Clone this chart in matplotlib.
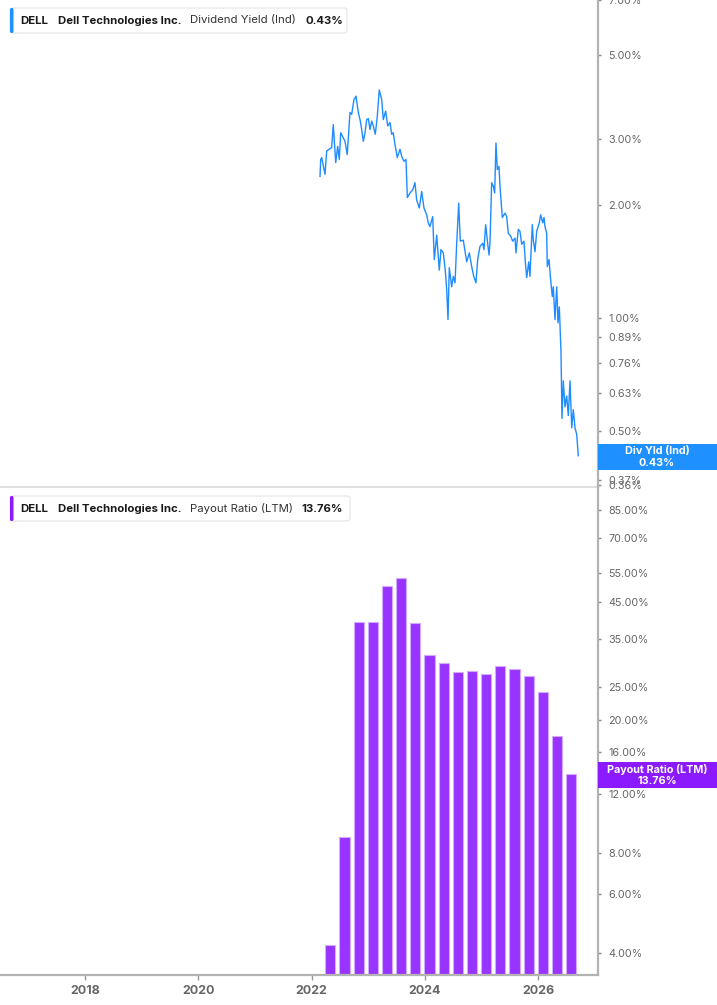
import matplotlib
matplotlib.use('Agg')
import matplotlib.pyplot as plt
from matplotlib.patches import Rectangle, FancyBboxPatch
from matplotlib.transforms import IdentityTransform
from matplotlib.ticker import FixedLocator, FixedFormatter, NullLocator

plt.rcParams['font.family'] = ['Inter', 'DejaVu Sans']

# ---------------- data ----------------
yield_dates = [
    2022.147, 2022.159, 2022.177, 2022.235, 2022.265, 2022.311, 2022.353, 2022.381, 2022.424, 2022.459,
    2022.487, 2022.512, 2022.588, 2022.628, 2022.676, 2022.706, 2022.747, 2022.782, 2022.823, 2022.853,
    2022.883, 2022.911, 2022.941, 2022.971, 2023.000, 2023.029, 2023.059, 2023.087, 2023.123, 2023.158,
    2023.193, 2023.236, 2023.264, 2023.306, 2023.342, 2023.382, 2023.412, 2023.440, 2023.470, 2023.511,
    2023.559, 2023.589, 2023.629, 2023.665, 2023.688, 2023.735, 2023.783, 2023.823, 2023.853, 2023.899,
    2023.942, 2023.982, 2024.030, 2024.058, 2024.088, 2024.136, 2024.164, 2024.207, 2024.252, 2024.282,
    2024.323, 2024.358, 2024.383, 2024.406, 2024.429, 2024.471, 2024.500, 2024.530, 2024.560, 2024.595,
    2024.623, 2024.676, 2024.736, 2024.782, 2024.824, 2024.860, 2024.900, 2024.930, 2024.971, 2025.018,
    2025.041, 2025.071, 2025.100, 2025.130, 2025.147, 2025.177, 2025.206, 2025.230, 2025.253, 2025.276,
    2025.306, 2025.324, 2025.365, 2025.412, 2025.442, 2025.470, 2025.513, 2025.548, 2025.589, 2025.606,
    2025.647, 2025.677, 2025.707, 2025.747, 2025.771, 2025.795, 2025.831, 2025.853, 2025.894, 2025.912,
    2025.942, 2025.972, 2026.018, 2026.042, 2026.078, 2026.101, 2026.118, 2026.148, 2026.159, 2026.189,
    2026.219, 2026.247, 2026.265, 2026.295, 2026.325, 2026.348, 2026.371, 2026.388, 2026.401, 2026.418,
    2026.441, 2026.471, 2026.501, 2026.530, 2026.560, 2026.590, 2026.618, 2026.648, 2026.678, 2026.706,
]
yield_values = [
    2.38, 2.64, 2.67, 2.41, 2.78, 2.81, 2.84, 3.27, 2.59, 2.86,
    2.64, 3.11, 2.95, 2.72, 3.52, 3.48, 3.81, 3.89, 3.52, 3.37,
    3.17, 2.95, 3.11, 3.37, 3.39, 3.17, 3.34, 3.24, 3.08, 3.44,
    4.04, 3.81, 3.37, 3.55, 3.24, 3.31, 3.08, 3.11, 2.89, 2.67,
    2.81, 2.69, 2.61, 2.64, 2.09, 2.15, 2.19, 2.29, 2.06, 1.96,
    2.17, 1.96, 1.88, 1.79, 1.75, 1.86, 1.43, 1.66, 1.34, 1.52,
    1.49, 1.34, 1.19, 0.99, 1.36, 1.21, 1.29, 1.24, 1.58, 2.02,
    1.60, 1.61, 1.41, 1.49, 1.37, 1.29, 1.24, 1.43, 1.55, 1.58,
    1.52, 1.77, 1.61, 1.47, 1.58, 2.29, 2.24, 2.15, 2.92, 2.48,
    2.53, 2.24, 1.85, 1.90, 1.86, 1.68, 1.65, 1.60, 1.63, 1.49,
    1.72, 1.70, 1.57, 1.60, 1.41, 1.28, 1.41, 1.29, 1.77, 1.61,
    1.50, 1.70, 1.79, 1.88, 1.79, 1.85, 1.75, 1.68, 1.37, 1.43,
    1.26, 1.14, 1.21, 0.99, 1.21, 0.97, 1.07, 0.91, 0.81, 0.54,
    0.68, 0.58, 0.62, 0.55, 0.68, 0.51, 0.57, 0.51, 0.49, 0.43,
]
payout_dates = [2022.33, 2022.58, 2022.83, 2023.08, 2023.33, 2023.58, 2023.83, 2024.08, 2024.33,
                2024.58, 2024.83, 2025.08, 2025.33, 2025.58, 2025.83, 2026.08, 2026.33, 2026.58]
payout_values = [4.23, 8.9, 39.4, 39.2, 50.5, 53.2, 38.9, 31.3, 29.5,
                 27.9, 28.1, 27.5, 29.0, 28.3, 27.1, 24.3, 17.9, 13.76]

yield_ticks = [7.0, 5.0, 3.0, 2.0, 1.0, 0.89, 0.76, 0.63, 0.50, 0.37, 0.36]
payout_ticks = [85, 70, 55, 45, 35, 25, 20, 16, 12, 8, 6, 4]
year_ticks = [2018, 2020, 2022, 2024, 2026]
year_labels = ['2018', '2020', '2022', '2024', '2026']

ticker_name = 'DELL'
company = 'Dell Technologies Inc.'
top_metric = 'Dividend Yield (Ind)'
bot_metric = 'Payout Ratio (LTM)'
top_last = '0.43%'
bot_last = '13.76%'

# ---------------- styling ----------------
BLUE = '#1E8CFF'
BOX_BLUE = '#1E90FF'
PURPLE = '#9933FF'
BOX_PURPLE = '#8C1AFF'
SPINE = '#b3b3b3'
TICKLBL = '#666666'

W, H = 717, 1005
fig = plt.figure(figsize=(W / 100, H / 100), dpi=100)
fig.patch.set_facecolor('white')

def fx(px):
    return px / W

def fy(py):
    return 1 - py / H

ax1 = fig.add_axes([0, fy(487), fx(598), 487 / H])
ax2 = fig.add_axes([0, fy(975), fx(598), (975 - 487) / H])

xlim = (2016.498, 2027.054)

for ax in (ax1, ax2):
    ax.set_facecolor('none')
    ax.set_yscale('log')
    ax.set_xlim(*xlim)
    ax.yaxis.tick_right()
    ax.yaxis.set_minor_locator(NullLocator())
    ax.spines['left'].set_visible(False)
    ax.spines['top'].set_visible(False)
    ax.spines['right'].set_color(SPINE)
    ax.spines['right'].set_linewidth(1.6)
    ax.tick_params(axis='y', which='major', direction='out', length=2.5, width=1,
                   color='#888888', labelsize=7.8, labelcolor=TICKLBL, pad=5)
    ax.tick_params(axis='y', which='minor', length=0)

# top panel: dividend yield line
ax1.plot(yield_dates, yield_values, color=BLUE, lw=1.0, solid_joinstyle='round')
ax1.set_ylim(0.355, 7.01)
ax1.yaxis.set_major_locator(FixedLocator(yield_ticks))
ax1.yaxis.set_major_formatter(FixedFormatter([f'{v:.2f}%' for v in yield_ticks]))
ax1.set_xticks([])
ax1.spines['bottom'].set_color('#dddddd')
ax1.spines['bottom'].set_linewidth(1.3)

# bottom panel: payout ratio bars
ax2.bar(payout_dates, payout_values, width=0.18, color=PURPLE, edgecolor='#D2AAFF',
        linewidth=0.8, log=True)
ax2.set_ylim(3.437, 99.7)
ax2.yaxis.set_major_locator(FixedLocator(payout_ticks))
ax2.yaxis.set_major_formatter(FixedFormatter([f'{v:.2f}%' for v in payout_ticks]))
ax2.yaxis.set_minor_locator(NullLocator())
ax2.set_xticks(year_ticks)
ax2.set_xticklabels(year_labels)
ax2.spines['bottom'].set_color(SPINE)
ax2.spines['bottom'].set_linewidth(1.6)
ax2.tick_params(axis='x', direction='out', length=3.5, width=1, color='#999999',
                labelsize=9, labelcolor=TICKLBL, pad=4)
for lbl in ax2.get_xticklabels():
    lbl.set_fontweight('bold')

ID = IdentityTransform()

def value_box(ax, value, color, line1, line2):
    ypix = ax.transData.transform((xlim[0], value))[1]
    h = 26
    rect = Rectangle((598, ypix - h / 2 - 1), W - 598, h, transform=ID,
                     facecolor=color, edgecolor='none', zorder=10)
    fig.add_artist(rect)
    fig.text(fx(657), (ypix + 4.5) / H, line1, ha='center', va='center', color='white',
             fontsize=7.8, fontweight='bold', zorder=11)
    fig.text(fx(657), (ypix - 7) / H, line2, ha='center', va='center', color='white',
             fontsize=7.8, fontweight='bold', zorder=11)

value_box(ax1, yield_values[-1], BOX_BLUE, 'Div Yld (Ind)', top_last)
value_box(ax2, payout_values[-1], BOX_PURPLE, 'Payout Ratio (LTM)', bot_last)

def legend_box(top, bottom, right, color, metric, last, last_x):
    y0 = H - bottom
    hh = bottom - top
    box = FancyBboxPatch((10, y0), right - 10, hh, boxstyle='round,pad=0,rounding_size=3',
                         transform=ID, facecolor='white', edgecolor='#e3e3e3', linewidth=0.8,
                         zorder=12)
    fig.add_artist(box)
    acc = FancyBboxPatch((10, y0), 3.5, hh, boxstyle='round,pad=0,rounding_size=1.5',
                         transform=ID, facecolor=color, edgecolor='none', zorder=13)
    fig.add_artist(acc)
    cy = fy((top + bottom) / 2)
    fig.text(fx(20.5), cy, ticker_name, ha='left', va='center', fontsize=8.2,
             fontweight='bold', color='#1a1a1a', zorder=14)
    fig.text(fx(58.5), cy, company, ha='left', va='center', fontsize=8.2,
             fontweight='bold', color='#1a1a1a', zorder=14)
    fig.text(fx(190), cy, metric, ha='left', va='center', fontsize=8.2,
             color='#333333', zorder=14)
    fig.text(fx(last_x), cy, last, ha='left', va='center', fontsize=8.2,
             fontweight='bold', color='#1a1a1a', zorder=14)

legend_box(8, 33, 347, BOX_BLUE, top_metric, top_last, 305)
legend_box(496, 521, 350, BOX_PURPLE, bot_metric, bot_last, 301.5)

fig.savefig('out.png', dpi=100, facecolor='white')
